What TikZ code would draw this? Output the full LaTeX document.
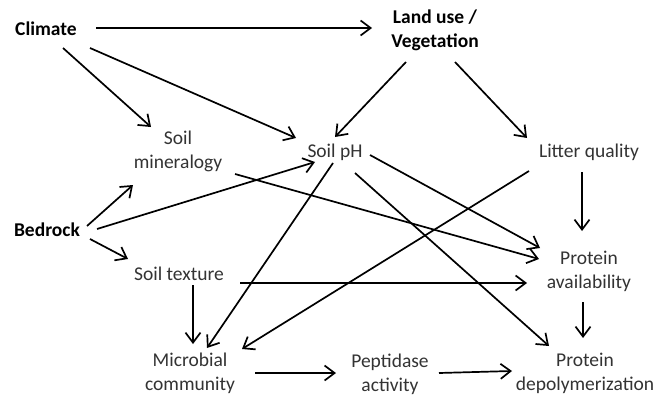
\documentclass[tikz,border=0pt]{standalone}
\usepackage{fontspec}
\setmainfont{Carlito}
\usetikzlibrary{arrows.meta,calc}
\definecolor{txtgray}{HTML}{333333}
\tikzset{
  lbl/.style={inner sep=0pt, align=center, text=txtgray, font=\fontsize{19.5}{24}\selectfont},
  blbl/.style={inner sep=0pt, align=center, text=black, font=\fontsize{19.5}{24}\selectfont\bfseries},
  arr/.style={draw=black, line width=1.7pt, -{Straight Barb[length=10pt,width=15pt,line width=1.7pt]}}
}
\begin{document}
\begin{tikzpicture}[x=1pt,y=-1pt]
\useasboundingbox[fill=white] (0,0) rectangle (664,396);
\node[blbl] (clim) at (46,29) {Climate};
\node[blbl] (land) at (435,30) {Land use /\\Vegetation};
\node[lbl] (minr) at (178,151) {Soil\\mineralogy};
\node[lbl] (ph) at (335,152) {Soil pH};
\node[lbl] (litt) at (589,152) {Litter quality};
\node[blbl] (bed) at (47,230) {Bedrock};
\node[lbl] (tex) at (179,274) {Soil texture};
\node[lbl] (pava) at (589,271) {Protein\\availability};
\node[lbl] (micr) at (190,373) {Microbial\\community};
\node[lbl] (pep) at (390,374) {Peptidase\\activity};
\node[lbl] (pdep) at (585,373) {Protein\\depolymerization};

\draw[arr] ($(clim)+(50,-1)$) -- ($(land)+(-63,-2)$);
\draw[arr] ($(clim)+(17,19)$) -- ($(minr)+(-27,-24)$);
\draw[arr] ($(clim)+(44,19)$) -- ($(ph)+(-39,-14)$);
\draw[arr] ($(land)+(-29,32)$) -- ($(ph)+(0,-15)$);
\draw[arr] ($(land)+(20,32)$) -- ($(litt)+(-62,-14)$);
\draw[arr] ($(minr)+(57,23)$) -- ($(pava)+(-50,-12)$);
\draw[arr] ($(bed)+(40,-4)$) -- ($(minr)+(-45,34)$);
\draw[arr] ($(bed)+(50,-1)$) -- ($(ph)+(-20,10)$);
\draw[arr] ($(bed)+(43,9)$) -- ($(tex)+(-51,-15)$);
\draw[arr] ($(ph)+(-2,11)$) -- ($(micr)+(17,-25)$);
\draw[arr] ($(ph)+(35,3)$) -- ($(pava)+(-49,-23)$);
\draw[arr] ($(ph)+(20,21)$) -- ($(pdep)+(-36,-27)$);
\draw[arr] ($(litt)+(-60,19)$) -- ($(micr)+(52,-24)$);
\draw[arr] ($(litt)+(-7,20)$) -- ($(pava)+(-7,-40)$);
\draw[arr] ($(tex)+(61,9)$) -- ($(pava)+(-62,12)$);
\draw[arr] ($(tex)+(14,11)$) -- ($(micr)+(3,-29)$);
\draw[arr] ($(pava)+(-6,31)$) -- ($(pdep)+(-2,-35)$);
\draw[arr] ($(micr)+(65,0)$) -- ($(pep)+(-54,-1)$);
\draw[arr] ($(pep)+(49,-1)$) -- ($(pdep)+(-73,-2)$);
\end{tikzpicture}
\end{document}
